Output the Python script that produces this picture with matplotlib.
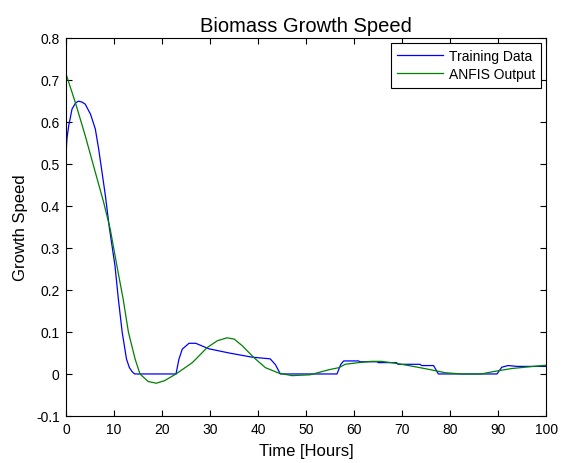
import matplotlib
matplotlib.use("Agg")
import matplotlib.pyplot as plt

plt.rcParams['font.family'] = ['Liberation Sans', 'DejaVu Sans']

# training data (blue)
x_train = [0, 0.2, 0.56, 1.25, 2.0, 2.6, 3.3, 4.0, 5.1, 6.1, 6.8, 7.5, 8.2, 9.0, 10.2, 10.9, 11.7, 12.6, 13.2, 13.8, 14.3,
           22.9, 23.5, 24.2, 25.6, 27, 29.7, 33.9, 38.7, 42.5, 43.6, 44.6,
           56.4, 57.2, 57.8, 60.9, 61.2, 64.7, 65, 68.8, 69.1, 73.7, 74, 76.5, 77.5,
           89.7, 90.7, 92, 94, 100]
y_train = [0.523, 0.56, 0.59, 0.63, 0.645, 0.649, 0.647, 0.642, 0.618, 0.583, 0.535, 0.48, 0.424, 0.35, 0.257, 0.178, 0.099, 0.035, 0.015, 0.005, 0.0,
           0.0, 0.035, 0.059, 0.073, 0.073, 0.06, 0.05, 0.04, 0.036, 0.022, 0.0,
           0.0, 0.023, 0.031, 0.031, 0.029, 0.029, 0.027, 0.027, 0.023, 0.023, 0.02, 0.02, 0.0,
           0.0, 0.016, 0.02, 0.018, 0.018]

# ANFIS output (green)
x_anfis = [0, 1.94, 4.0, 6.1, 7.8, 9.2, 10.6, 11.9, 13.0, 14.4, 15.4, 17.1, 18.8, 20.5, 22.9,
           26.3, 29.4, 31.5, 33.5, 35, 36.7, 39.1, 41.5, 44.3, 47, 50.8, 54.7, 56.8,
           58.1, 60.9, 63.5, 65.6, 68.3, 71.8, 75.5, 78.9, 82.3, 86.4, 89.1, 92.8, 100]
y_anfis = [0.714, 0.646, 0.567, 0.48, 0.41, 0.345, 0.257, 0.178, 0.099, 0.035, 0.0, -0.018, -0.022, -0.016, 0.0,
           0.027, 0.063, 0.079, 0.086, 0.083, 0.067, 0.039, 0.015, 0.002, -0.004, -0.002, 0.01, 0.015,
           0.023, 0.027, 0.03, 0.03, 0.026, 0.019, 0.011, 0.003, 0.0, 0.0, 0.006, 0.013, 0.021]

x_ticks = list(range(0, 101, 10))
y_ticks = [-0.1, 0, 0.1, 0.2, 0.3, 0.4, 0.5, 0.6, 0.7, 0.8]
y_ticklabels = ['-0.1', '0', '0.1', '0.2', '0.3', '0.4', '0.5', '0.6', '0.7', '0.8']

fig = plt.figure(figsize=(5.65, 4.64), dpi=100)
ax = fig.add_axes([0.1168, 0.1013, 0.8504, 0.8153])

ax.plot(x_train, y_train, color='#0000ff', lw=0.9, label='Training Data')
ax.plot(x_anfis, y_anfis, color='#008000', lw=0.9, label='ANFIS Output')

ax.set_xlim(0, 100)
ax.set_ylim(-0.1, 0.8)
ax.set_xticks(x_ticks)
ax.set_yticks(y_ticks)
ax.set_yticklabels(y_ticklabels)
ax.tick_params(direction='in', top=True, right=True, length=4, labelsize=10, width=0.8, pad=4.5)
for s in ax.spines.values():
    s.set_linewidth(0.8)

ax.set_title('Biomass Growth Speed', fontsize=14.5, pad=5)
ax.set_xlabel('Time [Hours]', fontsize=12, labelpad=5)
ax.set_ylabel('Growth Speed', fontsize=12, labelpad=5.5)

leg = ax.legend(loc='upper right', fontsize=10, fancybox=False, framealpha=1,
                edgecolor='black', borderaxespad=0.37, handlelength=3.3,
                handletextpad=0.4, borderpad=0.45, labelspacing=0.3)
leg.get_frame().set_linewidth(0.8)

fig.savefig('out.png', dpi=100)
